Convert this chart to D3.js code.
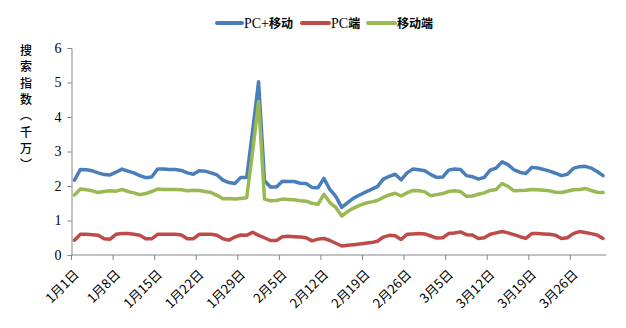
<!DOCTYPE html>
<html>
<head>
<meta charset="utf-8">
<script src="https://cdn.jsdelivr.net/npm/d3@7"></script>
<style>
  html, body { margin: 0; padding: 0; background: #fff; }
  svg { display: block; }
</style>
</head>
<body>
<svg id="chart" width="626" height="328"></svg>
<script>
// Daily search index (tens of millions), 1 Jan – 31 Mar
const seriesNames = ["PC+移动", "PC端", "移动端"];
const seriesColors = ["#4A7EBB", "#BE4B48", "#98B954"];

const totalValues = [
  2.17, 2.48, 2.47, 2.44, 2.38, 2.33, 2.32, 2.40, 2.49, 2.43,
  2.38, 2.30, 2.24, 2.26, 2.49, 2.49, 2.48, 2.48, 2.45, 2.38,
  2.34, 2.44, 2.43, 2.38, 2.32, 2.17, 2.10, 2.07, 2.25, 2.25,
  3.60, 5.02, 2.15, 1.97, 1.97, 2.14, 2.13, 2.13, 2.08, 2.07,
  1.96, 1.95, 2.22, 1.90, 1.70, 1.38, 1.52, 1.65, 1.74, 1.82,
  1.90, 1.98, 2.20, 2.28, 2.34, 2.18, 2.38, 2.49, 2.47, 2.44,
  2.33, 2.25, 2.26, 2.46, 2.49, 2.48, 2.30, 2.27, 2.20, 2.25,
  2.46, 2.52, 2.70, 2.62, 2.47, 2.40, 2.36, 2.54, 2.52, 2.48,
  2.43, 2.37, 2.30, 2.34, 2.51, 2.56, 2.57, 2.52, 2.42, 2.30
];

const pcValues = [
  0.43, 0.60, 0.60, 0.59, 0.57, 0.47, 0.46, 0.60, 0.62, 0.62,
  0.60, 0.57, 0.47, 0.47, 0.60, 0.60, 0.60, 0.60, 0.58, 0.47,
  0.47, 0.60, 0.60, 0.60, 0.57, 0.47, 0.43, 0.52, 0.58, 0.57,
  0.66, 0.57, 0.50, 0.42, 0.42, 0.53, 0.54, 0.53, 0.52, 0.50,
  0.41, 0.46, 0.48, 0.42, 0.34, 0.26, 0.28, 0.30, 0.32, 0.34,
  0.36, 0.40, 0.52, 0.57, 0.56, 0.45, 0.60, 0.61, 0.62, 0.61,
  0.55, 0.49, 0.50, 0.62, 0.64, 0.67, 0.59, 0.58, 0.48, 0.50,
  0.60, 0.64, 0.68, 0.64, 0.59, 0.53, 0.48, 0.62, 0.62, 0.61,
  0.60, 0.57, 0.48, 0.50, 0.62, 0.68, 0.65, 0.62, 0.58, 0.48
];

const mobileValues = [
  1.74, 1.91, 1.89, 1.86, 1.81, 1.84, 1.86, 1.85, 1.90, 1.84,
  1.80, 1.75, 1.78, 1.84, 1.91, 1.90, 1.90, 1.90, 1.89, 1.86,
  1.88, 1.87, 1.84, 1.81, 1.73, 1.63, 1.64, 1.62, 1.64, 1.66,
  3.00, 4.45, 1.62, 1.57, 1.58, 1.62, 1.61, 1.60, 1.57, 1.56,
  1.50, 1.47, 1.76, 1.52, 1.38, 1.13, 1.26, 1.36, 1.44, 1.50,
  1.54, 1.58, 1.67, 1.74, 1.79, 1.71, 1.80, 1.87, 1.86, 1.83,
  1.72, 1.75, 1.78, 1.84, 1.86, 1.84, 1.70, 1.71, 1.76, 1.80,
  1.87, 1.90, 2.07, 1.99, 1.86, 1.87, 1.88, 1.90, 1.89, 1.88,
  1.86, 1.82, 1.81, 1.85, 1.89, 1.90, 1.93, 1.87, 1.82, 1.81
];

const xTickLabels = [
  "1月1日", "1月8日", "1月15日", "1月22日", "1月29日", "2月5日", "2月12日",
  "2月19日", "2月26日", "3月5日", "3月12日", "3月19日", "3月26日"
];
const yTicks = [0, 1, 2, 3, 4, 5, 6];
const yTitleChars = ["搜", "索", "指", "数", "︵", "千", "万", "︶"];

const series = [totalValues, pcValues, mobileValues];

const svg = d3.select("#chart");
const plot = { left: 71.5, right: 606, top: 48, bottom: 255 };
const axisColor = "#868686";
const cjk = "'Noto Sans CJK SC', sans-serif";
const serif = "'Liberation Serif', 'Times New Roman', serif";

const dayIdx = d3.range(totalValues.length);
const x = d3.scaleBand().domain(dayIdx).range([plot.left, plot.right]).paddingInner(0).paddingOuter(0);
const y = d3.scaleLinear().domain([0, 6]).range([plot.bottom, plot.top]);
const cx = i => x(i) + x.bandwidth() / 2;

// Y axis
const yAxis = d3.axisLeft(y).tickValues(yTicks).tickSize(4).tickPadding(6).tickFormat(d3.format("d"));
const gy = svg.append("g").attr("transform", `translate(${plot.left},0)`).call(yAxis);
gy.select(".domain").attr("stroke", axisColor).attr("stroke-width", 1);
gy.selectAll(".tick line").attr("stroke", axisColor);
gy.selectAll(".tick text")
  .attr("fill", "#000")
  .style("font-family", serif)
  .style("font-size", "14px");

// X axis: weekly ticks on day boundaries
const tickDays = xTickLabels.map((_, k) => k * 7);
const gx = svg.append("g").attr("transform", `translate(0,${plot.bottom})`);
gx.append("line")
  .attr("x1", plot.left).attr("x2", plot.right)
  .attr("stroke", axisColor).attr("stroke-width", 1);
gx.selectAll("line.tick")
  .data(tickDays)
  .join("line")
  .attr("class", "tick")
  .attr("x1", d => x(d)).attr("x2", d => x(d))
  .attr("y1", 0).attr("y2", 5)
  .attr("stroke", axisColor);
gx.selectAll("text")
  .data(xTickLabels)
  .join("text")
  .attr("transform", (d, k) => `translate(${x(tickDays[k]) + 5},${17}) rotate(-45)`)
  .attr("text-anchor", "end")
  .attr("dy", "0.35em")
  .attr("fill", "#000")
  .style("font-family", cjk)
  .style("font-size", "13px")
  .text(d => d);

// Series lines
const line = d3.line().x((d, i) => cx(i)).y(d => y(d));
svg.append("g")
  .selectAll("path")
  .data(series)
  .join("path")
  .attr("d", d => line(d))
  .attr("fill", "none")
  .attr("stroke", (d, i) => seriesColors[i])
  .attr("stroke-width", 3.5)
  .attr("stroke-linejoin", "round")
  .attr("stroke-linecap", "round");

// Vertical y-axis title
svg.append("g")
  .selectAll("text")
  .data(yTitleChars)
  .join("text")
  .attr("x", 26)
  .attr("y", (d, i) => 55 + i * 16.3)
  .attr("text-anchor", "middle")
  .attr("fill", "#000")
  .style("font-family", cjk)
  .style("font-size", "12px")
  .style("font-weight", "500")
  .text(d => d);

// Legend
const legendItems = [
  { x1: 217, x2: 242, tx: 244 },
  { x1: 302, x2: 329, tx: 331 },
  { x1: 368, x2: 395, tx: 397 }
];
const lg = svg.append("g");
legendItems.forEach((it, i) => {
  lg.append("line")
    .attr("x1", it.x1).attr("x2", it.x2)
    .attr("y1", 23).attr("y2", 23)
    .attr("stroke", seriesColors[i])
    .attr("stroke-width", 4)
    .attr("stroke-linecap", "round");
  const t = lg.append("text")
    .attr("x", it.tx).attr("y", 23)
    .attr("dy", "0.35em")
    .attr("fill", "#000")
    .style("font-size", "13px");
  const name = seriesNames[i];
  const m = name.match(/^([A-Za-z+]*)(.*)$/);
  if (m[1]) t.append("tspan").style("font-family", serif).style("font-size", "14px").text(m[1]);
  t.append("tspan").style("font-family", cjk).style("font-weight", "bold").style("font-size", "12px").text(m[2]);
});
</script>
</body>
</html>
